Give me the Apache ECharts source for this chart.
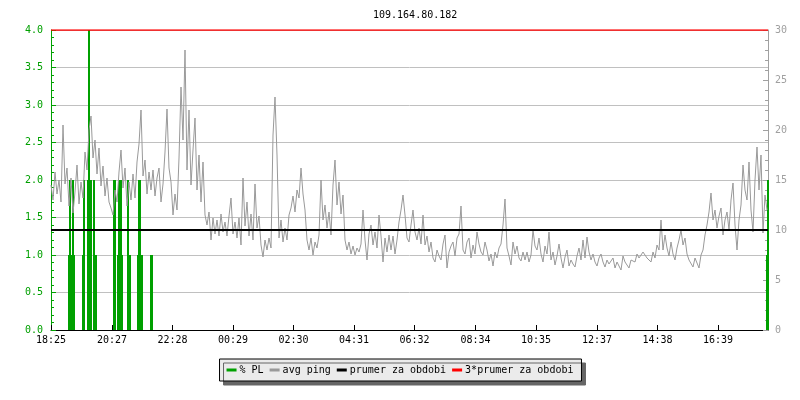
<!DOCTYPE html>
<html>
<head>
<meta charset="utf-8">
<title>109.164.80.182</title>
<script src="https://cdn.jsdelivr.net/npm/echarts@6/dist/echarts.min.js"></script>
<style>
  html, body { margin: 0; padding: 0; background: #fff; }
  #chart { width: 800px; height: 400px; }
</style>
</head>
<body>
<div id="chart"></div>
<script>
// avg ping v ms (prava osa), jeden odecet kazde 4 minuty od 18:25
const pingStep = 4
const avgPing = [
  14.5, 13.0, 15.8, 13.6, 15.0, 12.8, 20.5, 14.6, 16.2, 12.4, 15.2, 11.7, 13.8, 16.5, 12.6, 14.8, 13.2, 17.8, 16.0, 20.0, 21.4, 17.2, 19.0, 15.6, 18.2, 14.4, 16.4, 13.4, 15.2, 12.8,
  12.2, 11.5, 14.0, 12.8, 15.8, 18.0, 14.2, 16.2, 12.4, 14.8, 13.0, 15.6, 13.2, 16.8, 18.6, 22.0, 15.4, 17.0, 13.6, 15.8, 14.0, 16.0, 13.4, 15.2, 16.2, 12.8, 14.6, 17.8, 22.1, 16.2,
  14.8, 11.5, 13.6, 12.0, 17.2, 24.3, 19.0, 28.0, 16.0, 22.0, 14.5, 18.0, 21.2, 14.0, 17.5, 12.8, 16.8, 11.5, 10.5, 11.8, 9.0, 11.2, 9.6, 11.0, 9.4, 11.6, 9.8, 10.8, 9.4, 11.4,
  13.2, 9.6, 10.8, 9.2, 11.2, 8.5, 15.2, 10.4, 12.8, 9.4, 11.6, 9.0, 14.6, 10.2, 11.4, 8.5, 7.3, 9.0, 8.0, 9.2, 8.2, 19.5, 23.3, 17.5, 9.2, 11.0, 8.8, 10.2, 9.0, 11.5,
  12.2, 13.4, 11.8, 14.0, 13.2, 16.2, 13.6, 12.0, 9.0, 8.0, 9.2, 7.5, 8.8, 8.2, 9.5, 15.0, 11.0, 12.5, 10.2, 11.8, 9.5, 14.5, 17.0, 12.5, 14.8, 11.6, 13.5, 9.0, 8.0, 8.8,
  7.6, 8.4, 7.5, 8.2, 7.8, 8.6, 12.0, 9.0, 7.0, 9.6, 10.5, 8.5, 9.8, 8.2, 11.5, 9.4, 6.8, 9.2, 7.8, 9.5, 8.0, 9.4, 7.6, 9.0, 10.8, 12.0, 13.5, 11.5, 9.2, 8.8,
  10.5, 12.0, 9.8, 9.0, 10.2, 8.6, 11.5, 8.5, 9.4, 7.8, 8.8, 7.2, 6.8, 8.0, 7.4, 7.0, 8.6, 9.5, 6.2, 7.8, 8.4, 8.8, 7.4, 9.2, 9.6, 12.4, 8.0, 7.6, 8.8, 9.2,
  7.2, 8.5, 7.6, 9.8, 8.6, 7.8, 7.5, 8.8, 8.0, 6.9, 7.6, 6.4, 7.8, 7.2, 8.2, 8.6, 10.5, 13.1, 8.2, 7.4, 6.5, 8.8, 7.6, 8.4, 7.2, 6.9, 7.8, 7.0, 7.8, 6.8,
  7.5, 10.0, 8.4, 8.0, 9.2, 7.6, 6.8, 8.4, 7.6, 9.8, 7.0, 7.8, 6.5, 7.4, 8.6, 7.2, 6.2, 7.3, 8.0, 6.4, 7.0, 6.6, 6.3, 7.4, 8.2, 7.0, 9.0, 7.2, 9.3, 7.8,
  7.0, 7.6, 6.8, 6.4, 7.2, 7.6, 6.8, 6.3, 7.0, 6.6, 6.5, 7.2, 6.2, 6.8, 6.4, 6.0, 7.4, 6.8, 6.5, 6.2, 7.0, 7.2, 6.8, 7.6, 7.2, 7.0, 7.8, 8.0, 7.2, 7.4,
  6.8, 7.8, 7.2, 8.5, 8.0, 11.0, 8.0, 9.5, 8.2, 7.4, 8.8, 7.6, 7.0, 8.2, 9.0, 10.0, 8.5, 9.2, 7.6, 7.0, 6.8, 6.3, 7.2, 7.0, 6.2, 7.5, 8.0, 9.5, 10.5, 11.8,
  13.7, 11.0, 12.0, 10.2, 11.4, 12.2, 9.5, 11.0, 11.8, 10.0, 13.0, 14.7, 10.5, 8.0, 11.0, 12.5, 16.5, 14.0, 13.0, 16.8, 12.0, 9.8, 15.0, 18.3, 14.0, 17.5, 9.7, 13.5, 12.0
]

// packet loss v % (leva osa), cas v minutach od 18:25
const plTimes = [36, 38, 40, 42, 44, 46, 64, 66, 74, 76, 78, 80, 86, 88, 90, 126, 128,
  134, 136, 138, 140, 142, 154, 156, 158, 174, 176, 178, 180, 182, 200, 202, 1432, 1434]
const plValues = [1, 2, 1, 1, 2, 1, 1, 2, 2, 4, 2, 2, 2, 1, 1, 2, 2,
  1, 2, 1, 2, 1, 2, 1, 1, 1, 2, 2, 1, 1, 1, 1, 1, 2]

const prumer = 10
const prumer3 = 30
const endMinute = 1434

const timeLabels = ['18:25', '20:27', '22:28', '00:29', '02:30', '04:31',
  '06:32', '08:34', '10:35', '12:37', '14:38', '16:39']

// minuty od zacatku pro kazdy popisek casove osy
const toMinutes = (s) => {
  const [h, m] = s.split(':').map(Number)
  return ((h * 60 + m) - (18 * 60 + 25) + 1440) % 1440
}
const tickMinutes = timeLabels.map(toMinutes)

const mono = 'DejaVu Sans Mono'
const green = '#00a000'
const grey = '#a0a0a0'

const chart = echarts.init(document.getElementById('chart'))
chart.setOption({
  animation: false,
  title: {
    text: '109.164.80.182',
    left: 368,
    top: 5,
    textStyle: { fontFamily: mono, fontSize: 10, fontWeight: 'normal', color: '#000' }
  },
  grid: { left: 51, right: 32, top: 30, bottom: 70 },
  legend: {
    left: 'center',
    top: 359,
    data: ['% PL', 'avg ping', 'prumer za obdobi', '3*prumer za obdobi'],
    icon: 'rect',
    itemWidth: 10,
    itemHeight: 3,
    itemGap: 6,
    padding: [6, 8, 6, 7],
    backgroundColor: '#ebebeb',
    borderColor: '#000',
    borderWidth: 1,
    borderRadius: 0,
    shadowColor: '#666',
    shadowBlur: 0,
    shadowOffsetX: 4,
    shadowOffsetY: 4,
    textStyle: { fontFamily: mono, fontSize: 10, color: '#000', padding: [0, 0, 0, -2] }
  },
  xAxis: {
    type: 'value',
    min: 0,
    max: endMinute,
    axisLine: { lineStyle: { color: '#000', width: 1 } },
    axisTick: { inside: true, length: 5, customValues: tickMinutes, lineStyle: { color: '#000' } },
    axisLabel: {
      customValues: tickMinutes,
      formatter: (v) => timeLabels[tickMinutes.indexOf(v)] || '',
      fontFamily: mono,
      fontSize: 10,
      color: '#000',
      margin: 5
    },
    splitLine: { show: false }
  },
  yAxis: [
    {
      type: 'value',
      min: 0,
      max: 4,
      interval: 0.5,
      position: 'left',
      axisLine: { show: true, lineStyle: { color: green } },
      axisTick: { show: true, inside: true, length: 5, lineStyle: { color: green } },
      minorTick: { show: true, splitNumber: 5, length: 3, lineStyle: { color: green } },
      axisLabel: {
        formatter: (v) => v.toFixed(1),
        fontFamily: mono,
        fontSize: 10,
        color: green,
        margin: 8
      },
      splitLine: { show: true, lineStyle: { color: '#c0c0c0', width: 1 } }
    },
    {
      type: 'value',
      min: 0,
      max: 30,
      interval: 5,
      position: 'right',
      axisLine: { show: true, lineStyle: { color: grey } },
      axisTick: { show: true, inside: true, length: 5, lineStyle: { color: grey } },
      minorTick: { show: true, splitNumber: 5, length: 3, lineStyle: { color: grey } },
      axisLabel: { fontFamily: mono, fontSize: 10, color: grey, margin: 7 },
      splitLine: { show: false }
    }
  ],
  series: [
    {
      name: 'avg ping',
      type: 'line',
      yAxisIndex: 1,
      symbol: 'none',
      color: '#999',
      lineStyle: { width: 1, color: '#999' },
      data: avgPing.map((v, i) => [i * pingStep, v])
    },
    {
      name: '% PL',
      type: 'bar',
      yAxisIndex: 0,
      color: green,
      barWidth: 2,
      itemStyle: { color: green },
      data: plTimes.map((t, i) => [t, plValues[i]])
    },
    {
      name: 'prumer za obdobi',
      type: 'line',
      yAxisIndex: 1,
      symbol: 'none',
      color: '#000',
      lineStyle: { width: 2, color: '#000' },
      data: [[0, prumer], [endMinute, prumer]]
    },
    {
      name: '3*prumer za obdobi',
      type: 'line',
      yAxisIndex: 1,
      symbol: 'none',
      color: '#ff0000',
      lineStyle: { width: 1.5, color: '#ff0000' },
      data: [[0, prumer3], [endMinute, prumer3]]
    }
  ]
})
</script>
</body>
</html>
